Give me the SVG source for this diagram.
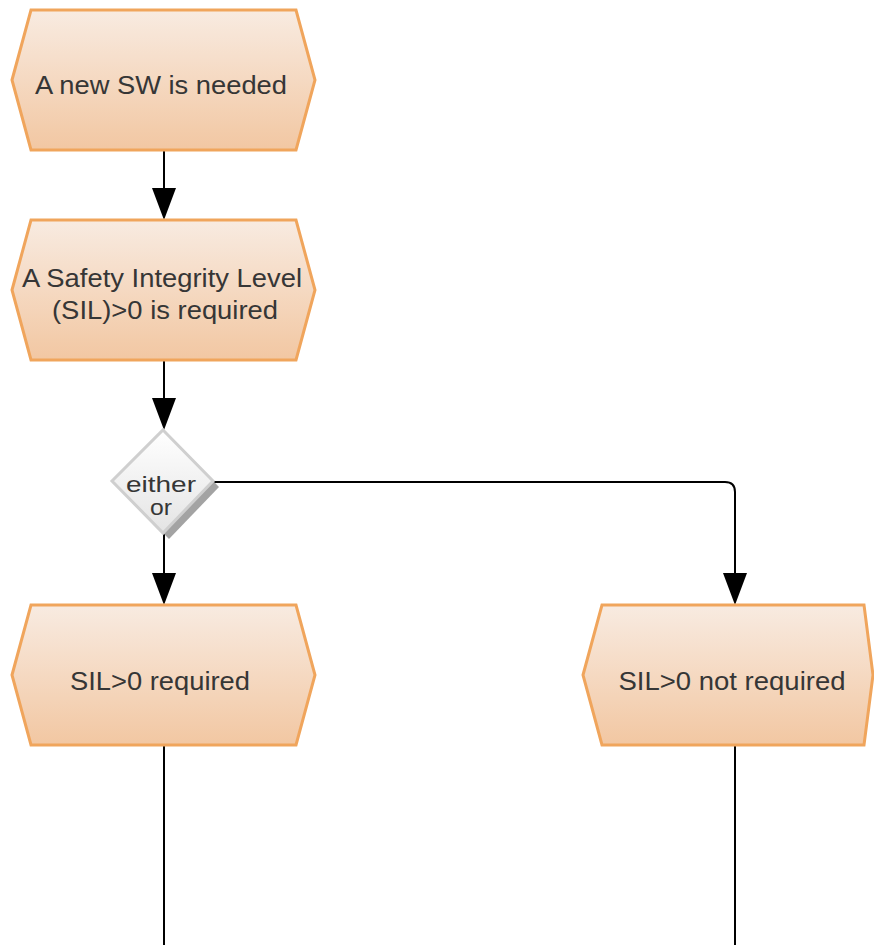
<svg xmlns="http://www.w3.org/2000/svg" width="874" height="945" viewBox="0 0 874 945">
  <defs>
    <linearGradient id="eventFill" x1="0" y1="0" x2="0" y2="1">
      <stop offset="0" stop-color="#f8ebe1"/>
      <stop offset="1" stop-color="#f2c7a2"/>
    </linearGradient>
    <linearGradient id="gateFill" x1="0" y1="0" x2="0" y2="1">
      <stop offset="0" stop-color="#ffffff"/>
      <stop offset="1" stop-color="#e4e4e4"/>
    </linearGradient>
  </defs>
  <style>
    .event { fill: url(#eventFill); stroke: #f0a55c; stroke-width: 3; stroke-linejoin: miter; }
    .gate { fill: url(#gateFill); stroke: #cfcfcf; stroke-width: 3; }
    .gate-shadow { fill: #a3a3a3; }
    .label { font-family: "Liberation Sans", Arial, sans-serif; font-size: 25px; fill: #363636; text-anchor: middle; }
    .gate-label { font-family: "Liberation Sans", Arial, sans-serif; font-size: 22px; fill: #363636; text-anchor: middle; }
    .conn { fill: none; stroke: #000; stroke-width: 2; }
    .head { fill: #000; }
  </style>

  <rect width="874" height="945" fill="#ffffff"/>

  <!-- connectors -->
  <g id="connectors">
    <path class="conn" d="M164,151 L164,190"/>
    <path class="head" d="M152,188 L176,188 L164,220 Z"/>
    <path class="conn" d="M164,361 L164,400"/>
    <path class="head" d="M152,398 L176,398 L164,430 Z"/>
    <path class="conn" d="M164,534 L164,575"/>
    <path class="head" d="M152,573 L176,573 L164,605 Z"/>
    <path class="conn" d="M212,482 L725,482 Q735,482 735,492 L735,575"/>
    <path class="head" d="M723,573 L747,573 L735,605 Z"/>
    <path class="conn" d="M164,746 L164,945"/>
    <path class="conn" d="M735,746 L735,945"/>
  </g>

  <!-- event: A new SW is needed -->
  <g id="event-new-sw">
    <polygon class="event" points="12,80 31,10 296,10 315,80 296,150 31,150"/>
    <text class="label" x="161" y="94" textLength="252" lengthAdjust="spacingAndGlyphs">A new SW is needed</text>
  </g>

  <!-- event: SIL>0 is required -->
  <g id="event-sil-required-intro">
    <polygon class="event" points="12,290 31,220 296,220 315,290 296,360 31,360"/>
    <text class="label" x="162" y="287" textLength="280" lengthAdjust="spacingAndGlyphs">A Safety Integrity Level</text>
    <text class="label" x="165" y="319" textLength="226" lengthAdjust="spacingAndGlyphs">(SIL)&gt;0 is required</text>
  </g>

  <!-- XOR gate -->
  <g id="gate-xor">
    <polygon class="gate-shadow" points="169,436 219,487 169,539 118,487"/>
    <polygon class="gate" points="163,430 213,481 163,533 112,481"/>
    <text class="gate-label" x="161" y="492" textLength="70" lengthAdjust="spacingAndGlyphs">either</text>
    <text class="gate-label" x="161" y="515" textLength="22" lengthAdjust="spacingAndGlyphs">or</text>
  </g>

  <!-- event: SIL>0 required -->
  <g id="event-sil-required">
    <polygon class="event" points="12,675 31,605 296,605 315,675 296,745 31,745"/>
    <text class="label" x="160" y="690" textLength="180" lengthAdjust="spacingAndGlyphs">SIL&gt;0 required</text>
  </g>

  <!-- event: SIL>0 not required -->
  <g id="event-sil-not-required">
    <polygon class="event" points="583,675 602,605 864,605 873,675 864,745 602,745"/>
    <text class="label" x="732" y="690" textLength="227" lengthAdjust="spacingAndGlyphs">SIL&gt;0 not required</text>
  </g>
</svg>
